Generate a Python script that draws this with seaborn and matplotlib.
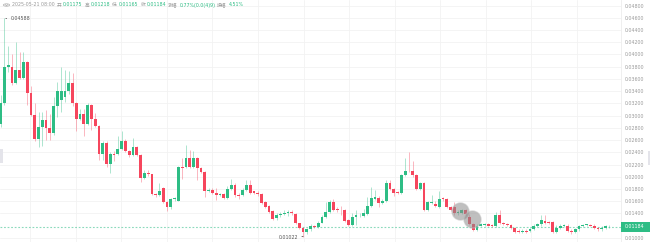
import numpy as np
import pandas as pd
import matplotlib
matplotlib.use("Agg")
import matplotlib.pyplot as plt
import matplotlib.transforms as mtransforms
from matplotlib.patches import Rectangle, Circle
from matplotlib.lines import Line2D
import seaborn as sns

# ---------------- data ----------------
opens = [0.0287, 0.0320, 0.0380, 0.0379, 0.0354, 0.0375, 0.0362, 0.0388, 0.0337, 0.0301,
         0.0262, 0.0282, 0.0293, 0.0279, 0.0271, 0.0316, 0.0326, 0.0330, 0.0340, 0.0353,
         0.0320, 0.0294, 0.0303, 0.0286, 0.0317, 0.0294, 0.0283, 0.0238, 0.0256, 0.0221,
         0.0238, 0.0237, 0.0245, 0.0259, 0.0242, 0.0236, 0.0249, 0.0236, 0.0198, 0.0206,
         0.0204, 0.0172, 0.0170, 0.0181, 0.0159, 0.0150, 0.0163, 0.0161, 0.0216, 0.0216,
         0.0230, 0.0216, 0.0230, 0.0214, 0.0208, 0.0177, 0.0179, 0.0173, 0.0170, 0.0171,
         0.0165, 0.0180, 0.0187, 0.0170, 0.0170, 0.0178, 0.0187, 0.0176, 0.0174, 0.0171,
         0.0159, 0.0152, 0.0144, 0.0132, 0.0137, 0.0139, 0.0141, 0.0142, 0.0139, 0.0124,
         0.0117, 0.0109, 0.0114, 0.0120, 0.0118, 0.0125, 0.0134, 0.0143, 0.0158, 0.0147,
         0.0146, 0.0145, 0.0129, 0.0121, 0.0134, 0.0137, 0.0136, 0.0139, 0.0152, 0.0164,
         0.0166, 0.0157, 0.0160, 0.0189, 0.0180, 0.0175, 0.0173, 0.0203, 0.0210, 0.0209,
         0.0203, 0.0180, 0.0189, 0.0146, 0.0157, 0.0156, 0.0151, 0.0165, 0.0164, 0.0151,
         0.0151, 0.0140, 0.0141, 0.0145, 0.0135, 0.0122, 0.0113, 0.0120, 0.0121, 0.0122,
         0.0121, 0.0120, 0.0138, 0.0124, 0.0123, 0.0121, 0.0116, 0.0112, 0.0110, 0.0112,
         0.0111, 0.0115, 0.0120, 0.0122, 0.0128, 0.0126, 0.0126, 0.0110, 0.0116, 0.0120,
         0.0120, 0.0112, 0.0110, 0.0114, 0.0120, 0.0121, 0.0121, 0.0120, 0.0116, 0.0114,
         0.0117, 0.01175]
highs = [0.0334, 0.04588, 0.0413, 0.0400, 0.0421, 0.0404, 0.0404, 0.0390, 0.0349, 0.0320,
         0.0306, 0.0306, 0.0309, 0.0302, 0.0331, 0.0355, 0.0380, 0.0375, 0.0373, 0.0369,
         0.0322, 0.0310, 0.0310, 0.0320, 0.0319, 0.0305, 0.0284, 0.0259, 0.0258, 0.0240,
         0.0242, 0.0266, 0.0275, 0.0262, 0.0244, 0.0263, 0.0251, 0.0237, 0.0211, 0.0211,
         0.0205, 0.0174, 0.0190, 0.0183, 0.0160, 0.0165, 0.0167, 0.0217, 0.0230, 0.0252,
         0.0244, 0.0242, 0.0232, 0.0216, 0.0210, 0.0181, 0.0181, 0.0181, 0.0173, 0.0173,
         0.0185, 0.0197, 0.0190, 0.0174, 0.0182, 0.0195, 0.0195, 0.0177, 0.0176, 0.0173,
         0.0160, 0.0154, 0.0146, 0.0140, 0.0142, 0.0145, 0.0145, 0.0145, 0.0140, 0.0125,
         0.0118, 0.0116, 0.0123, 0.0121, 0.0127, 0.0138, 0.0158, 0.0162, 0.0164, 0.0150,
         0.0152, 0.0147, 0.0131, 0.0140, 0.0145, 0.0141, 0.0147, 0.0167, 0.0183, 0.0179,
         0.0168, 0.0163, 0.0195, 0.0195, 0.0182, 0.0177, 0.0205, 0.0230, 0.0241, 0.0225,
         0.0205, 0.0191, 0.0191, 0.0161, 0.0170, 0.0160, 0.0176, 0.0167, 0.0166, 0.0153,
         0.0158, 0.0146, 0.0148, 0.0147, 0.0139, 0.0124, 0.0122, 0.0124, 0.0124, 0.0124,
         0.0123, 0.0143, 0.0145, 0.0126, 0.0125, 0.0123, 0.0118, 0.0114, 0.0114, 0.0114,
         0.0117, 0.0122, 0.0124, 0.0138, 0.0137, 0.0128, 0.0127, 0.0121, 0.0122, 0.0123,
         0.0122, 0.0114, 0.0116, 0.0121, 0.0122, 0.0123, 0.0123, 0.0122, 0.0118, 0.0119,
         0.0121, 0.01218]
lows = [0.0281, 0.0318, 0.0371, 0.0350, 0.0352, 0.0360, 0.0360, 0.0318, 0.0299, 0.0258,
        0.0249, 0.0250, 0.0260, 0.0260, 0.0268, 0.0298, 0.0306, 0.0322, 0.0335, 0.0315,
        0.0274, 0.0292, 0.0266, 0.0284, 0.0276, 0.0281, 0.0227, 0.0227, 0.0216, 0.0206,
        0.0225, 0.0235, 0.0243, 0.0240, 0.0233, 0.0234, 0.0234, 0.0192, 0.0196, 0.0202,
        0.0170, 0.0167, 0.0168, 0.0157, 0.0144, 0.0148, 0.0161, 0.0160, 0.0196, 0.0214,
        0.0214, 0.0214, 0.0195, 0.0206, 0.0167, 0.0175, 0.0171, 0.0162, 0.0168, 0.0164,
        0.0163, 0.0178, 0.0167, 0.0164, 0.0168, 0.0176, 0.0172, 0.0171, 0.0169, 0.0155,
        0.0149, 0.0141, 0.0129, 0.0130, 0.0135, 0.0137, 0.0136, 0.0138, 0.0122, 0.0114,
        0.01022, 0.0106, 0.0112, 0.0116, 0.0116, 0.0124, 0.0132, 0.0141, 0.0144, 0.0143,
        0.0138, 0.0126, 0.0119, 0.0119, 0.0121, 0.0135, 0.0134, 0.0137, 0.0150, 0.0162,
        0.0151, 0.0155, 0.0158, 0.0178, 0.0168, 0.0171, 0.0171, 0.0201, 0.0207, 0.0200,
        0.0178, 0.0178, 0.0144, 0.0144, 0.0155, 0.0150, 0.0149, 0.0161, 0.0149, 0.0144,
        0.0138, 0.0138, 0.0139, 0.0137, 0.0121, 0.0111, 0.0111, 0.0119, 0.0119, 0.0119,
        0.0118, 0.0118, 0.0122, 0.0121, 0.0119, 0.0114, 0.0108, 0.0108, 0.0108, 0.0108,
        0.0109, 0.0113, 0.0118, 0.0120, 0.0123, 0.0122, 0.0108, 0.0108, 0.0114, 0.0118,
        0.0110, 0.0107, 0.0108, 0.0112, 0.0118, 0.0119, 0.0119, 0.0114, 0.0112, 0.0112,
        0.0115, 0.01165]
closes = [0.0320, 0.0380, 0.0382, 0.0354, 0.0375, 0.0362, 0.0388, 0.0337, 0.0301, 0.0262,
          0.0282, 0.0293, 0.0279, 0.0271, 0.0316, 0.0340, 0.0341, 0.0341, 0.0353, 0.0320,
          0.0294, 0.0303, 0.0286, 0.0317, 0.0294, 0.0283, 0.0238, 0.0256, 0.0221, 0.0238,
          0.0236, 0.0245, 0.0259, 0.0242, 0.0236, 0.0249, 0.0236, 0.0198, 0.0206, 0.0204,
          0.0172, 0.0170, 0.0176, 0.0159, 0.0150, 0.0163, 0.0165, 0.0216, 0.0214, 0.0230,
          0.0216, 0.0230, 0.0214, 0.0208, 0.0177, 0.0179, 0.0173, 0.0170, 0.0171, 0.0166,
          0.0180, 0.0187, 0.0170, 0.0168, 0.0178, 0.0187, 0.0174, 0.0173, 0.0171, 0.0157,
          0.0151, 0.0143, 0.0131, 0.0137, 0.0139, 0.0141, 0.0142, 0.0140, 0.0124, 0.0116,
          0.0109, 0.0114, 0.0120, 0.0118, 0.0125, 0.0134, 0.0143, 0.0158, 0.0146, 0.0145,
          0.0145, 0.0128, 0.0121, 0.0134, 0.0138, 0.0138, 0.0140, 0.0152, 0.0165, 0.0167,
          0.0157, 0.0161, 0.0189, 0.0180, 0.0173, 0.0173, 0.0203, 0.0210, 0.0209, 0.0203,
          0.0180, 0.0189, 0.0146, 0.0159, 0.0159, 0.0153, 0.0163, 0.0163, 0.0151, 0.0146,
          0.0140, 0.0143, 0.0145, 0.0139, 0.0123, 0.0113, 0.0120, 0.0122, 0.0122, 0.0120,
          0.0120, 0.0138, 0.0124, 0.0123, 0.0121, 0.0116, 0.0110, 0.0110, 0.0112, 0.0110,
          0.0115, 0.0120, 0.0122, 0.0129, 0.0125, 0.0124, 0.0110, 0.0116, 0.0120, 0.0121,
          0.0112, 0.0109, 0.0114, 0.0119, 0.0121, 0.0122, 0.0120, 0.0116, 0.0114, 0.0117,
          0.0119, 0.01184]

price_ticks = [0.048, 0.046, 0.044, 0.042, 0.040, 0.038, 0.036, 0.034, 0.032, 0.030,
               0.028, 0.026, 0.024, 0.022, 0.020, 0.018, 0.016, 0.014, 0.010]
last_price = 0.01184
max_label = "0.04588"
min_label = "0.01022"
header_texts = ["2025-05-21 08:00", "开", "0.01175", "高", "0.01218", "低", "0.01165",
                "收", "0.01184", "涨幅", "0.77%(0.0(4)9)", "振幅", "4.51%"]
header_is_value = [False, False, True, False, True, False, True, False, True, False, True,
                   False, True]
event_idx = [121.5, 124.6]
event_price = [0.0144, 0.0131]

# ---------------- style ----------------
GREEN = "#2ebd85"
RED = "#f6465d"
GRAY = "#9a9a9a"
sns.set_theme(style="white")
plt.rcParams["font.family"] = ["DejaVu Sans", "Noto Sans CJK SC"]

W, H = 650, 242
fig = plt.figure(figsize=(W / 100, H / 100), dpi=100)
fig.patch.set_facecolor("white")
ax_right_px = 621
ax = fig.add_axes([0, 0, ax_right_px / W, 1])

df = pd.DataFrame({"open": opens, "high": highs, "low": lows, "close": closes})
df["idx"] = np.arange(len(df))
df["up"] = df["close"] >= df["open"]
df["color"] = np.where(df["up"], GREEN, RED)

# wicks
ax.vlines(df["idx"], df["low"], df["high"], colors=df["color"], linewidth=0.6,
          alpha=0.45, zorder=2)
# bodies
body_h = (df["close"] - df["open"]).abs().clip(lower=0.00008)
body_b = df[["open", "close"]].min(axis=1)
ax.bar(df["idx"], body_h, bottom=body_b, width=0.74, color=df["color"],
       linewidth=0, zorder=3)

# event markers
sns.scatterplot(x=event_idx, y=event_price, ax=ax, s=150, color="#8c8c8c", alpha=0.55,
                edgecolor="#bdbdbd", linewidth=1.0, zorder=4, legend=False)

# current price line
ax.axhline(last_price, color=GREEN, alpha=0.55, linewidth=0.8,
           linestyle=(0, (1.6, 1.6)), zorder=1)

# axes limits to match pixel layout
px_per_candle = 3.78
x0_px = 0.7
ax.set_xlim(-x0_px / px_per_candle, (ax_right_px - x0_px) / px_per_candle)
ax.set_ylim(0.0489 - 0.0001635 * H, 0.0489)

# grid
ax.set_yticks(price_ticks)
ax.set_yticklabels([f"{v:.5f}" for v in price_ticks])
ax.set_xticks(np.arange(7.75, 164, 12.06))
ax.set_xticklabels([])
ax.grid(True, color="#f2f2f2", linewidth=0.6)
ax.set_axisbelow(True)
ax.yaxis.tick_right()
ax.tick_params(axis="y", length=0, pad=3, labelsize=3.4, labelcolor=GRAY)
ax.tick_params(axis="x", length=0)
for s in ["top", "left", "bottom"]:
    ax.spines[s].set_visible(False)
ax.spines["right"].set_color("#ececec")
ax.spines["right"].set_linewidth(0.6)

# max / min annotations
imax = int(np.argmax(highs))
imin = int(np.argmin(lows))
ax.annotate(max_label, xy=(imax, highs[imax]), xytext=(4.2, 0), textcoords="offset points",
            ha="left", va="center", fontsize=3.4, color="#555555",
            arrowprops=dict(arrowstyle="-", color="#555555", lw=0.6, shrinkA=0.3, shrinkB=1.0),
            zorder=6)
ax.annotate(min_label, xy=(imin, lows[imin]), xytext=(-3.5, -0.5), textcoords="offset points",
            ha="right", va="center", fontsize=3.4, color="#555555",
            arrowprops=dict(arrowstyle="-", color="#555555", lw=0.6, shrinkA=0.3, shrinkB=0.0),
            zorder=6)

# last price tag on the axis
blend = mtransforms.blended_transform_factory(ax.transAxes, ax.transData)
tag_h = 10 * 0.0001635
ax.add_patch(Rectangle((1.0, last_price - tag_h / 2), (W - ax_right_px) / ax_right_px, tag_h,
                       transform=blend, facecolor=GREEN, edgecolor="none",
                       clip_on=False, zorder=7))
ax.text(1.0 + 4 / ax_right_px, last_price, f"{last_price:.5f}", transform=blend,
        ha="left", va="center", fontsize=3.4, color="white", clip_on=False, zorder=8)

# header line
fig.add_artist(Circle((6.5 / W, 1 - 5 / H), 3.2 / W, transform=fig.transFigure,
                      facecolor="none", edgecolor="#b0b0b0", linewidth=0.5))
fig.add_artist(Line2D([5.2 / W, 6.5 / W, 7.8 / W], [1 - 4.5 / H, 1 - 5.8 / H, 1 - 4.5 / H],
                      transform=fig.transFigure, color="#b0b0b0", linewidth=0.5))
fig.canvas.draw()
renderer = fig.canvas.get_renderer()
xpos = 12.0
for txt, isval in zip(header_texts, header_is_value):
    t = fig.text(xpos / W, 1 - 5 / H, txt, fontsize=3.4, ha="left", va="center",
                 color=GREEN if isval else GRAY)
    bb = t.get_window_extent(renderer)
    xpos += bb.width + 1.8

# side handles
fig.add_artist(Rectangle((0, 1 - 163 / H), 2.5 / W, 14 / H, transform=fig.transFigure,
                         facecolor="#e4e4ea", edgecolor="none"))
fig.add_artist(Rectangle((1 - 2.5 / W, 1 - 165 / H), 2.5 / W, 14 / H, transform=fig.transFigure,
                         facecolor="#e4e4ea", edgecolor="none"))

fig.savefig("out.png", dpi=100, facecolor="white")
